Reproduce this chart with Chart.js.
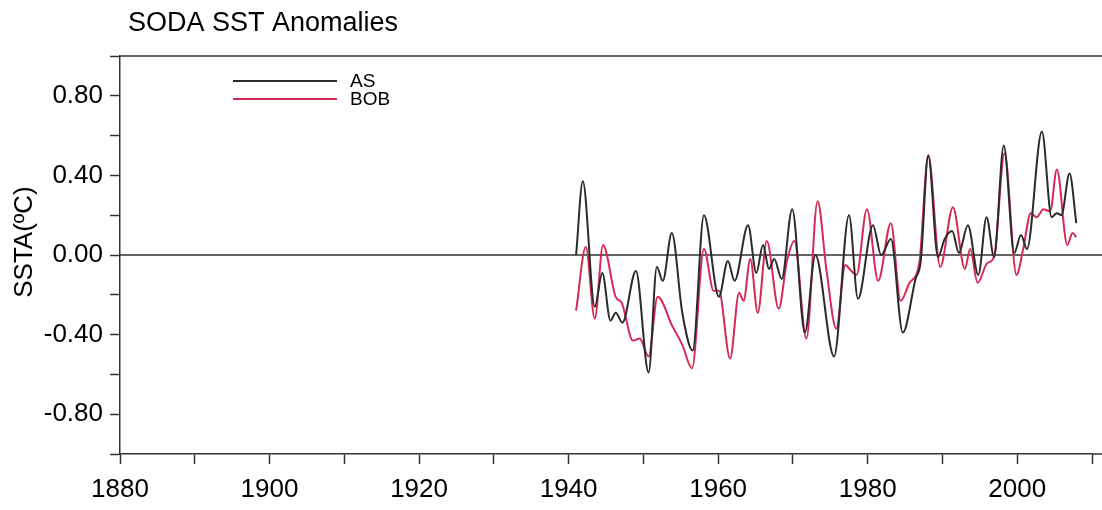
<!DOCTYPE html>
<html>
<head>
<meta charset="utf-8">
<title>SODA SST Anomalies</title>
<script src="https://cdn.jsdelivr.net/npm/chart.js@4/dist/chart.umd.min.js"></script>
<style>
  html, body { margin: 0; padding: 0; background: #ffffff; }
  canvas { display: block; }
</style>
</head>
<body>
<canvas id="sst" width="1102" height="510"></canvas>
<script>
// Smoothed SST anomaly turning points (year, degC)
const asYears = [1941.0, 1941.9, 1943.5, 1944.5, 1945.6, 1946.3, 1947.2, 1949.0, 1950.7, 1951.8,
  1952.6, 1953.8, 1955.2, 1956.6, 1958.1, 1960.1, 1961.3, 1962.2, 1964.0, 1965.1,
  1966.0, 1966.8, 1967.5, 1968.5, 1969.9, 1971.6, 1973.0, 1975.5, 1977.5, 1978.7,
  1980.7, 1981.8, 1983.1, 1984.7, 1986.4, 1987.1, 1988.1, 1989.4, 1990.3, 1991.3,
  1992.2, 1993.4, 1994.8, 1995.9, 1996.9, 1998.2, 1999.6, 2000.5, 2001.3, 2003.3,
  2004.6, 2005.3, 2005.9, 2007.0, 2007.9];
const asValues = [0.00, 0.37, -0.26, -0.09, -0.33, -0.29, -0.34, -0.08, -0.59, -0.06,
  -0.13, 0.11, -0.29, -0.48, 0.20, -0.21, -0.03, -0.13, 0.15, -0.09,
  0.05, -0.07, -0.02, -0.12, 0.23, -0.39, 0.00, -0.51, 0.20, -0.22,
  0.15, 0.00, 0.08, -0.39, -0.12, -0.03, 0.50, -0.01, 0.08, 0.12,
  0.01, 0.15, -0.10, 0.19, -0.01, 0.55, 0.01, 0.10, 0.03, 0.62,
  0.19, 0.21, 0.20, 0.41, 0.16];

const bobYears = [1941.0, 1942.3, 1943.5, 1944.6, 1946.3, 1947.1, 1948.6, 1949.5, 1950.7, 1951.9,
  1953.9, 1955.2, 1956.5, 1958.1, 1959.4, 1960.1, 1961.6, 1962.8, 1963.4, 1964.3,
  1965.3, 1966.5, 1968.1, 1969.2, 1970.2, 1971.8, 1973.3, 1974.5, 1975.8, 1977.0,
  1977.8, 1978.5, 1979.9, 1981.4, 1983.1, 1984.4, 1985.6, 1986.9, 1988.1, 1989.7,
  1991.4, 1993.0, 1993.7, 1994.7, 1996.0, 1996.9, 1998.3, 1999.9, 2000.8, 2001.8,
  2002.6, 2003.5, 2004.4, 2005.3, 2006.7, 2007.4, 2007.9];
const bobValues = [-0.28, 0.04, -0.32, 0.05, -0.21, -0.24, -0.43, -0.42, -0.51, -0.21,
  -0.36, -0.45, -0.57, 0.03, -0.18, -0.18, -0.52, -0.19, -0.23, -0.02,
  -0.29, 0.07, -0.27, -0.03, 0.07, -0.42, 0.27, -0.08, -0.37, -0.05,
  -0.08, -0.10, 0.23, -0.13, 0.16, -0.23, -0.14, -0.04, 0.50, -0.06,
  0.24, -0.07, 0.03, -0.14, -0.04, -0.01, 0.51, -0.10, 0.03, 0.21,
  0.19, 0.23, 0.22, 0.43, 0.05, 0.11, 0.09];

const seriesNames = ['AS', 'BOB'];
const chartTitle = 'SODA SST Anomalies';
const yAxisTitle = 'SSTA(\u00BAC)';
const xLabelYears = [1880, 1900, 1920, 1940, 1960, 1980, 2000];
const yLabelValues = [0.8, 0.4, 0, -0.4, -0.8];

const FONT = "'Liberation Sans', Arial, sans-serif";
const AXIS = '#333333';
const TEXT = '#000000';

const toPoints = (xs, ys) => xs.map((x, i) => ({ x: x, y: ys[i] }));

// Frame lines, zero line, title, axis title and in-plot legend
const decorations = {
  id: 'decorations',
  beforeDatasetsDraw(chart) {
    const { ctx, chartArea, scales } = chart;
    const W = chart.width;
    ctx.save();
    ctx.strokeStyle = AXIS;
    ctx.lineWidth = 1.5;
    const y0 = scales.y.getPixelForValue(0);
    ctx.beginPath();
    ctx.moveTo(chartArea.left, y0); ctx.lineTo(W, y0);
    ctx.moveTo(chartArea.left, chartArea.top); ctx.lineTo(W, chartArea.top);
    ctx.moveTo(chartArea.right, chartArea.bottom); ctx.lineTo(W, chartArea.bottom);
    ctx.stroke();
    ctx.restore();
  },
  afterDraw(chart) {
    const { ctx } = chart;
    ctx.save();
    ctx.fillStyle = TEXT;
    ctx.textAlign = 'left';
    ctx.textBaseline = 'alphabetic';
    ctx.font = '27px ' + FONT;
    ctx.fillText(chartTitle, 128, 31);

    ctx.save();
    ctx.translate(25, 242);
    ctx.rotate(-Math.PI / 2);
    ctx.textAlign = 'center';
    ctx.textBaseline = 'middle';
    ctx.font = '26px ' + FONT;
    ctx.fillText(yAxisTitle, 0, 0);
    ctx.restore();

    const rows = [81, 99];
    chart.data.datasets.forEach((ds, i) => {
      ctx.strokeStyle = ds.borderColor;
      ctx.lineWidth = 1.8;
      ctx.beginPath();
      ctx.moveTo(233, rows[i]); ctx.lineTo(337, rows[i]);
      ctx.stroke();
      ctx.fillStyle = TEXT;
      ctx.font = '19px ' + FONT;
      ctx.textBaseline = 'middle';
      ctx.fillText(ds.label, 350, rows[i] + 1);
    });
    ctx.restore();
  }
};

new Chart(document.getElementById('sst'), {
  type: 'line',
  data: {
    datasets: [
      {
        label: seriesNames[0],
        data: toPoints(asYears, asValues),
        borderColor: '#2b2b2b',
        borderWidth: 2,
        pointRadius: 0,
        cubicInterpolationMode: 'monotone',
        fill: false
      },
      {
        label: seriesNames[1],
        data: toPoints(bobYears, bobValues),
        borderColor: '#d42a55',
        borderWidth: 2,
        pointRadius: 0,
        cubicInterpolationMode: 'monotone',
        fill: false
      }
    ]
  },
  options: {
    responsive: false,
    animation: false,
    layout: { padding: { top: 56, right: 3, left: 0, bottom: 0 } },
    plugins: {
      legend: { display: false },
      title: { display: false },
      tooltip: { enabled: false }
    },
    scales: {
      x: {
        type: 'linear',
        min: 1880,
        max: 2010,
        afterFit(scale) { scale.height = 56; },
        border: { display: true, color: AXIS, width: 1.5 },
        grid: { drawOnChartArea: false, drawTicks: true, tickLength: 10, tickColor: AXIS, tickWidth: 1.5 },
        ticks: {
          stepSize: 10,
          autoSkip: false,
          maxRotation: 0,
          padding: 10,
          color: TEXT,
          font: { family: FONT, size: 26 },
          callback: (v) => xLabelYears.includes(Math.round(v)) ? String(Math.round(v)) : ''
        }
      },
      y: {
        min: -1,
        max: 1,
        afterFit(scale) { scale.width = 120; },
        border: { display: true, color: AXIS, width: 1.5 },
        grid: { drawOnChartArea: false, drawTicks: true, tickLength: 10, tickColor: AXIS, tickWidth: 1.5 },
        ticks: {
          stepSize: 0.2,
          autoSkip: false,
          padding: 7,
          color: TEXT,
          font: { family: FONT, size: 26 },
          callback: (v) => {
            const hit = yLabelValues.some(t => Math.abs(t - v) < 1e-6);
            if (!hit) return '';
            return Math.abs(v) < 1e-6 ? '0.00' : v.toFixed(2);
          }
        }
      }
    }
  },
  plugins: [decorations]
});
</script>
</body>
</html>
